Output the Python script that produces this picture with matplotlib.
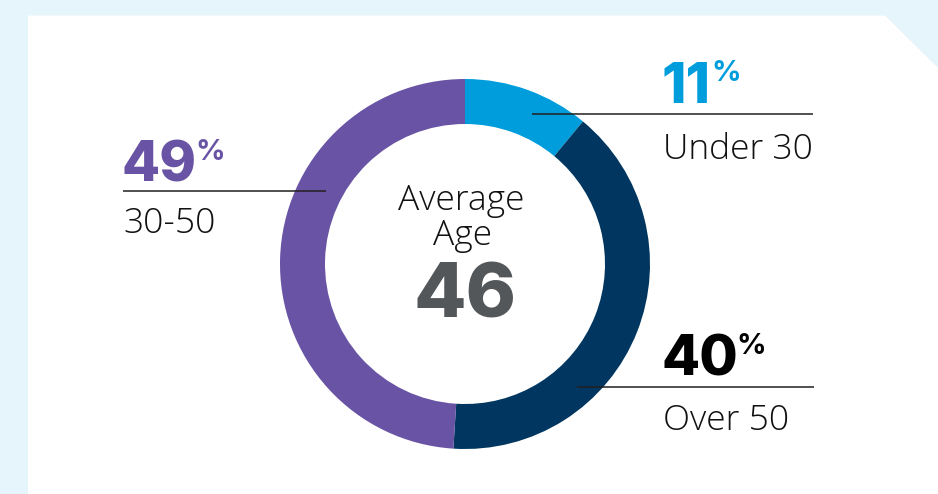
import matplotlib
matplotlib.use("Agg")
import matplotlib.pyplot as plt
from matplotlib.patches import Polygon

# ---- data ----
categories = ["Under 30", "Over 50", "30-50"]
shares = [11, 40, 49]
colors = ["#009ddc", "#00365f", "#6853a4"]
label_colors = ["#009ddc", "#000000", "#6853a4"]
center_title = "Average\nAge"
center_value = "46"

W, H = 938, 494
fig = plt.figure(figsize=(W / 100, H / 100), dpi=100)
fig.patch.set_facecolor("#e6f4fb")
ax = fig.add_axes([0, 0, 1, 1])
ax.set_facecolor("none")

def Y(y):
    return H - y

# white card with cut corner
card = Polygon([(28, Y(15.5)), (885, Y(15.5)), (938, Y(68)), (938, -5), (28, -5)],
               closed=True, facecolor="white", edgecolor="none", zorder=0)
ax.add_patch(card)

cx, cy, R = 465, Y(264), 185
ax.pie(shares, colors=colors, startangle=90, counterclock=False,
       center=(cx, cy), radius=R, frame=True,
       wedgeprops=dict(width=45, edgecolor="none", linewidth=0))

ax.set_xlim(0, W)
ax.set_ylim(0, H)
ax.set_aspect("auto")
ax.axis("off")

NUMFONT = "Inter"
LABFONT = "Open Sans"

# label blocks: (x_text, number baseline y, line y, line x0, line x1, label baseline y)
blocks = {
    "Under 30": (663, 103, 114, 532, 813, 159),
    "Over 50": (663, 376, 386.5, 577, 814, 430),
    "30-50": (123, 182, 191.5, 123, 326, 233),
}

for cat, val, lc in zip(categories, shares, label_colors):
    x, ny, ly, lx0, lx1, ty = blocks[cat]
    t = ax.text(x - 1, Y(ny), f"{val}", family=NUMFONT, weight="heavy",
                fontsize=40, color=lc, ha="left", va="baseline", zorder=5)
    ax.annotate("%", xy=(1, 1), xycoords=t, xytext=(-1.5 if val != 11 else 0.3, 1.5),
                textcoords="offset points", family=NUMFONT, weight="bold",
                fontsize=21, color=lc, ha="left", va="top", zorder=5)
    ax.plot([lx0, lx1], [Y(ly), Y(ly)], color="#231f20", lw=1.1, zorder=6,
            solid_capstyle="butt")
    ax.text(x, Y(ty), cat, family=LABFONT, weight="light", fontsize=25.5,
            color="#111111", ha="left", va="baseline", zorder=5)

ax.text(cx - 4, Y(210), center_title.split("\n")[0], family=LABFONT, weight="light",
        fontsize=25.5, color="#111111", ha="center", va="baseline")
ax.text(cx - 2, Y(245), center_title.split("\n")[1], family=LABFONT, weight="light",
        fontsize=25.5, color="#111111", ha="center", va="baseline")
ax.text(cx, Y(317), center_value, family=NUMFONT, weight="heavy",
        fontsize=55, color="#54575a", ha="center", va="baseline")

fig.savefig("out.png", dpi=100, facecolor=fig.get_facecolor())
